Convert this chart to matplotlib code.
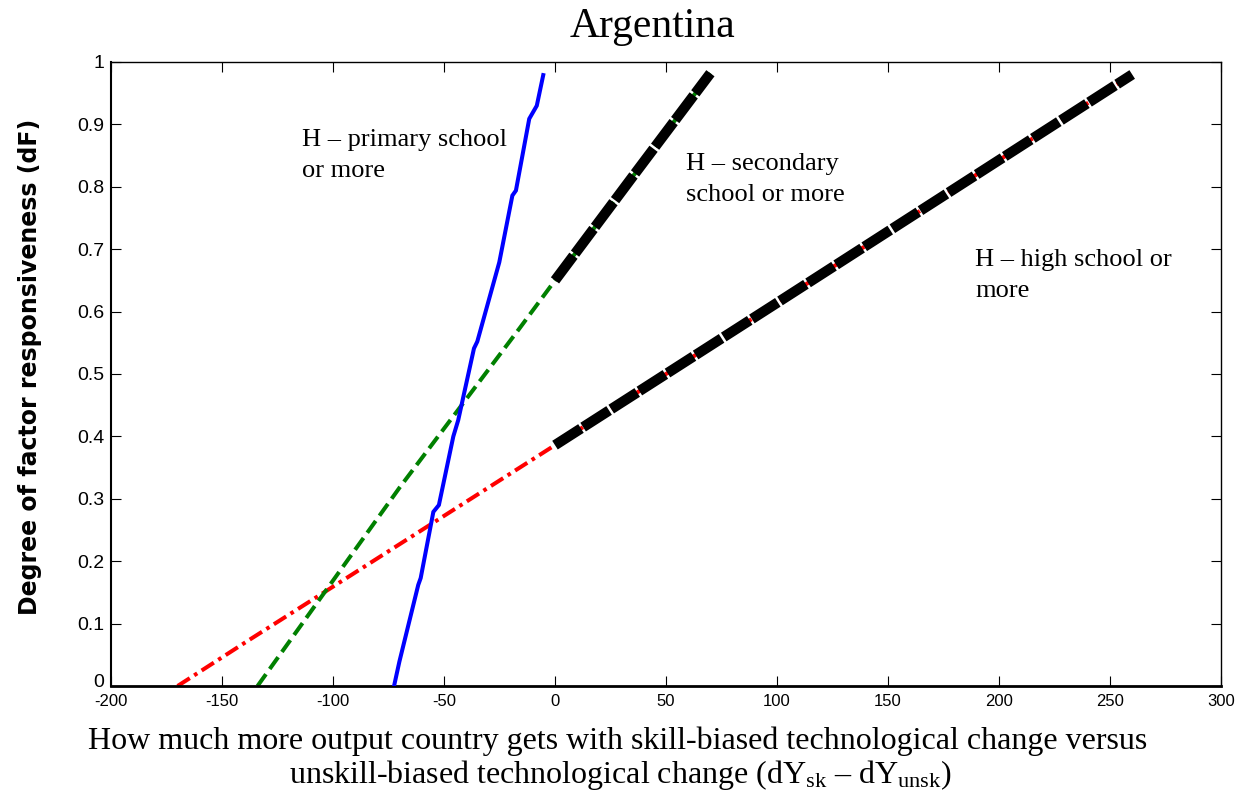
import matplotlib
matplotlib.use("Agg")
import matplotlib.pyplot as plt
from matplotlib.transforms import ScaledTranslation

plt.rcParams["mathtext.fontset"] = "custom"
plt.rcParams["mathtext.rm"] = "Liberation Serif"
plt.rcParams["mathtext.it"] = "Liberation Serif:italic"

# H - primary school or more
primary_x = [-72.5, -70.1, -61.6, -60.5, -54.8, -52.3, -45.8, -43.6, -36.5, -35.0,
             -25.1, -19.2, -17.6, -11.6, -8.2, -5.3]
primary_y = [0.0, 0.039, 0.162, 0.173, 0.279, 0.29, 0.40, 0.426, 0.541, 0.552,
             0.679, 0.786, 0.794, 0.909, 0.93, 0.979]

# H - secondary school or more
secondary_x = [-134.0, -69.8, -15.8, 0.0, 36.8, 70.0]
secondary_y = [0.0, 0.319, 0.574, 0.65, 0.825, 0.982]

# H - high school or more
high_x = [-170.0, -139.0, -104.5, 0.0, 100.0, 260.0]
high_y = [0.0, 0.071, 0.149, 0.386, 0.614, 0.98]

x_ticks = [-200, -150, -100, -50, 0, 50, 100, 150, 200, 250, 300]
y_ticks = [0, 0.1, 0.2, 0.3, 0.4, 0.5, 0.6, 0.7, 0.8, 0.9, 1.0]
y_tick_labels = ["0", "0.1", "0.2", "0.3", "0.4", "0.5", "0.6", "0.7", "0.8", "0.9", "1"]

serif = "Liberation Serif"
sans = "Liberation Sans"

W, H = 1251, 794
fig = plt.figure(figsize=(W / 100, H / 100), dpi=100)
ax = fig.add_axes([111 / W, 1 - 686 / H, 1110 / W, 624 / H])

# full lines first
ax.plot(high_x, high_y, color="red", lw=2.9, dashes=(3.6, 1.3, 0.9, 1.3),
        dash_capstyle="butt", zorder=2)
ax.plot(secondary_x, secondary_y, color="green", lw=2.9, dashes=(3.6, 1.6),
        dash_capstyle="butt", zorder=2)
ax.plot(primary_x, primary_y, color="blue", lw=2.9, solid_joinstyle="miter", zorder=3)


def positive_part(xs, ys):
    pts = [(x, y) for x, y in zip(xs, ys) if x >= 0]
    return [p[0] for p in pts], [p[1] for p in pts]


# thick black overlay for the positive-output range
for xs, ys in (positive_part(secondary_x, secondary_y), positive_part(high_x, high_y)):
    ax.plot(xs, ys, color="black", lw=7.4, dashes=(3.0, 0.25),
            dash_capstyle="butt", zorder=4)

ax.set_xlim(-200, 300)
ax.set_ylim(0, 1)
ax.set_xticks(x_ticks)
ax.set_xticklabels([str(t) for t in x_ticks], fontsize=12, family=sans)
ax.set_yticks(y_ticks)
ax.set_yticklabels(y_tick_labels, fontsize=14, family=sans)
ax.tick_params(direction="in", length=7, width=0.8, top=True, right=True,
               labeltop=False, labelright=False)
ax.tick_params(axis="x", pad=6)
ax.tick_params(axis="y", pad=5)
for s in ax.spines.values():
    s.set_linewidth(1.0)
ax.spines["bottom"].set_linewidth(2.0)
ax.spines["left"].set_linewidth(1.5)

# lift the bottom y label a little off the corner
zero_label = ax.get_yticklabels()[0]
zero_label.set_transform(zero_label.get_transform()
                         + ScaledTranslation(0, 4 / 72, fig.dpi_scale_trans))

# curve annotations
ann_kw = dict(fontsize=19, family=serif, va="baseline", ha="left")
ax.text(-114, 0.8654, "H \u2013 primary school", **ann_kw)
ax.text(-114, 0.8157, "or more", **ann_kw)
ax.text(59, 0.827, "H \u2013 secondary", **ann_kw)
ax.text(59, 0.777, "school or more", **ann_kw)
ax.text(189.2, 0.673, "H \u2013 high school or", **ann_kw)
ax.text(189.2, 0.623, "more", **ann_kw)

fig.text(652 / W, 1 - 37 / H, "Argentina", fontsize=30, family=serif,
         ha="center", va="baseline")

fig.text(618 / W, 1 - 749 / H,
         "How much more output country gets with skill-biased technological change versus",
         fontsize=23, family=serif, ha="center", va="baseline")
fig.text(620 / W, 1 - 783 / H,
         "unskill-biased technological change (dY$_{\\mathrm{sk}}$ \u2013 dY$_{\\mathrm{unsk}}$)",
         fontsize=23, family=serif, ha="center", va="baseline")

fig.text(30 / W, 1 - 367 / H, "Degree of factor responsiveness (dF)",
         fontsize=17, family="DejaVu Sans", weight="bold", rotation=90,
         ha="center", va="center")

fig.savefig("out.png", dpi=100)
